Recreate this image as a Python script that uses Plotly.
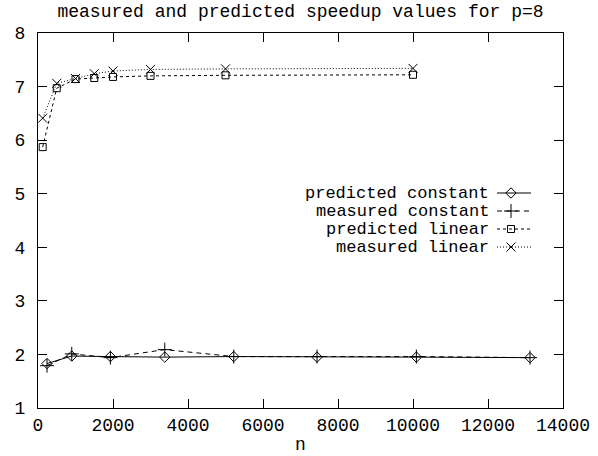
import plotly.graph_objects as go

# ---- data ----
n_const = [240, 900, 1930, 3380, 5220, 7440, 10090, 13120]
pred_const = [1.83, 1.97, 1.96, 1.95, 1.96, 1.95, 1.95, 1.94]
meas_const = [1.79, 2.01, 1.94, 2.09, 1.96, 1.96, 1.96, 1.94]

n_lin = [125, 500, 1000, 1500, 2000, 3000, 5000, 10000]
pred_lin = [5.87, 6.97, 7.14, 7.16, 7.18, 7.20, 7.21, 7.22]
meas_lin = [6.41, 7.06, 7.15, 7.24, 7.29, 7.32, 7.33, 7.34]

x_ticks = [0, 2000, 4000, 6000, 8000, 10000, 12000, 14000]
y_ticks = [1, 2, 3, 4, 5, 6, 7, 8]

series = [
    ("predicted constant", n_const, pred_const, "solid", "diamond-open", 8),
    ("measured constant", n_const, meas_const, "5px,4px", "cross-thin-open", 10),
    ("predicted linear", n_lin, pred_lin, "3px,3px", "square-open", 7),
    ("measured linear", n_lin, meas_lin, "1px,2px", "x-thin-open", 9),
]

FONT = "Liberation Mono, Courier New, monospace"
W, H = 598, 456
L, R, T, B = 38, 35, 33, 48
PH = H - T - B  # plot height in px

fig = go.Figure()
for name, xs, ys, dash, sym, sz in series:
    fig.add_trace(go.Scatter(
        x=xs, y=ys, mode="lines+markers", name=name, showlegend=False,
        line=dict(color="black", width=1, dash=dash),
        marker=dict(symbol=sym, size=sz, color="black",
                    line=dict(color="black", width=1)),
    ))

# ---- hand-built legend (text right-aligned, sample on the right) ----
leg_y = [193, 211, 229, 247]
x_text_right = 490
x_s0, x_s1 = 497, 531
for (name, xs, ys, dash, sym, sz), yy in zip(series, leg_y):
    fig.add_trace(go.Scatter(
        x=[x_s0, x_s1], y=[yy, yy], mode="lines", xaxis="x2", yaxis="y2",
        showlegend=False, hoverinfo="skip",
        line=dict(color="black", width=1, dash=dash)))
    fig.add_trace(go.Scatter(
        x=[(x_s0 + x_s1) / 2 - 3], y=[yy], mode="markers", xaxis="x2", yaxis="y2",
        showlegend=False, hoverinfo="skip",
        marker=dict(symbol=sym, size=sz, color="black",
                    line=dict(color="black", width=1))))
    fig.add_annotation(x=x_text_right, y=yy, xref="x2", yref="y2", text=name,
                       showarrow=False, xanchor="right", yanchor="middle",
                       height=16, valign="middle", borderpad=0,
                       font=dict(family=FONT, size=17, color="black"))

# x-axis title "n"
fig.add_annotation(x=0.5, y=-(445 - (H - B)) / PH, xref="paper", yref="paper",
                   text="n", showarrow=False, xanchor="center", yanchor="middle",
                   font=dict(family=FONT, size=18, color="black"))

axis_common = dict(
    showgrid=False, zeroline=False, showline=True, linecolor="black",
    linewidth=1, mirror="allticks", ticks="inside", ticklen=9,
    tickcolor="black", tickwidth=1, automargin=False,
    tickfont=dict(family=FONT, size=18, color="black"),
)

fig.update_layout(
    width=W, height=H,
    margin=dict(l=L, r=R, t=T, b=B, autoexpand=False),
    paper_bgcolor="white", plot_bgcolor="white",
    title=dict(text="measured and predicted speedup values for p=8",
               x=0.5, xanchor="center", y=1 - 11 / H, yanchor="middle",
               xref="paper", yref="container", automargin=False,
               font=dict(family=FONT, size=18, color="black")),
    xaxis=dict(range=[0, 14000], tickvals=x_ticks,
               ticktext=[str(v) for v in x_ticks],
               ticklabelstandoff=0, **axis_common),
    yaxis=dict(range=[1, 8], tickvals=y_ticks,
               ticktext=[str(v) for v in y_ticks],
               ticklabelstandoff=8, **axis_common),
    xaxis2=dict(overlaying="x", range=[L, W - R], visible=False, fixedrange=True),
    yaxis2=dict(overlaying="y", range=[H - B, T], visible=False, fixedrange=True),
    showlegend=False,
)

fig.write_html("out.html")
